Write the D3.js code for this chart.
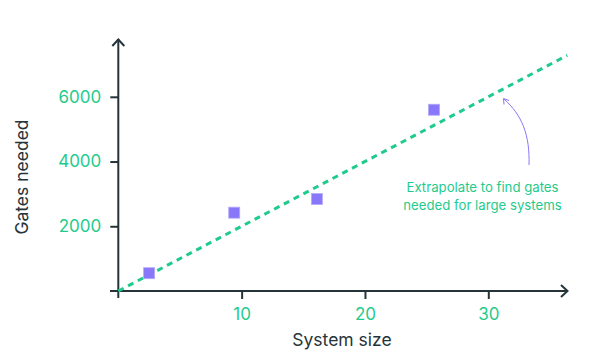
<!DOCTYPE html>
<html><head><meta charset="utf-8">
<script src="https://cdn.jsdelivr.net/npm/d3@7"></script>
<style>body{margin:0;background:#fff}svg{display:block}text{font-family:Inter,"Noto Sans",sans-serif}</style>
</head><body><svg id="c" width="593" height="355"></svg>
<script>
const systemSize = [2.5, 9.4, 16.1, 25.6];
const gatesNeeded = [550, 2420, 2840, 5600];
const trendX = [0, 36.4];
const trendY = [0, 7280];
const xTicks = [10, 20, 30];
const yTicks = [2000, 4000, 6000];
const xTitle = "System size";
const yTitle = "Gates needed";
const note = ["Extrapolate to find gates", "needed for large systems"];

const svg = d3.select("#c");
const x = d3.scaleLinear().domain([0, 36.3]).range([118.3, 566]);
const y = d3.scaleLinear().domain([0, 6000]).range([291, 96.8]);
const axisCol = "#26343a", green = "#1fcb8c", purple = "#8877f8";

// axes lines
svg.append("line").attr("x1", 110).attr("x2", 568).attr("y1", y(0)).attr("y2", y(0)).attr("stroke", axisCol).attr("stroke-width", 2);
svg.append("line").attr("x1", x(0)).attr("x2", x(0)).attr("y1", 298).attr("y2", 39).attr("stroke", axisCol).attr("stroke-width", 2);
// arrowheads
svg.append("path").attr("d", `M${x(0)-6},46 L${x(0)},39.5 L${x(0)+6},46`).attr("fill","none").attr("stroke",axisCol).attr("stroke-width",2);
svg.append("path").attr("d", `M561,285 L567.5,291 L561,297`).attr("fill","none").attr("stroke",axisCol).attr("stroke-width",2);

// ticks
const xa = d3.axisBottom(x).tickValues(xTicks).tickSize(8).tickPadding(6).tickFormat(d3.format("d"));
const gx = svg.append("g").attr("transform", `translate(0,${y(0)})`).call(xa);
gx.select(".domain").remove();
gx.selectAll("line").attr("stroke", axisCol).attr("stroke-width", 2);
gx.selectAll("text").attr("fill", green).style("font-size", "17px").attr("dy", "0.9em");

const ya = d3.axisLeft(y).tickValues(yTicks).tickSize(8).tickPadding(9).tickFormat(d3.format("d"));
const gy = svg.append("g").attr("transform", `translate(${x(0)},0)`).call(ya);
gy.select(".domain").remove();
gy.selectAll("line").attr("stroke", axisCol).attr("stroke-width", 2);
gy.selectAll("text").attr("fill", green).style("font-size", "17px");

// titles
svg.append("text").attr("x", 342).attr("y", 345.5).attr("text-anchor", "middle").attr("fill", axisCol).style("font-size", "17.5px").text(xTitle);
svg.append("text").attr("transform", "translate(28,177) rotate(-90)").attr("text-anchor", "middle").attr("fill", axisCol).style("font-size", "17.5px").text(yTitle);

// trend line
svg.append("line").attr("x1", x(trendX[0])).attr("y1", y(trendY[0])).attr("x2", x(trendX[1])).attr("y2", y(trendY[1]))
  .attr("stroke", green).attr("stroke-width", 3).attr("stroke-dasharray", "6,5");

// points
svg.selectAll("rect.pt").data(systemSize).join("rect").attr("class","pt")
  .attr("x", d => x(d) - 5.5).attr("y", (d,i) => y(gatesNeeded[i]) - 5.5)
  .attr("width", 11).attr("height", 11).attr("fill", purple).attr("stroke", "#b3a9fb").attr("stroke-width", 0.8);

// annotation
const t = svg.append("text").attr("text-anchor","middle").attr("fill", green).style("font-size","13.2px");
note.forEach((s,i) => t.append("tspan").attr("x", 482.5).attr("y", 192 + i*17.5).text(s));
svg.append("path").attr("d", "M529,165 C530,135 522,115 504,99").attr("fill","none").attr("stroke", purple).attr("stroke-width",1);
svg.append("path").attr("d", "M504,104.5 L503.5,98.5 L509,100.5").attr("fill","none").attr("stroke", purple).attr("stroke-width",1);
</script></body></html>
